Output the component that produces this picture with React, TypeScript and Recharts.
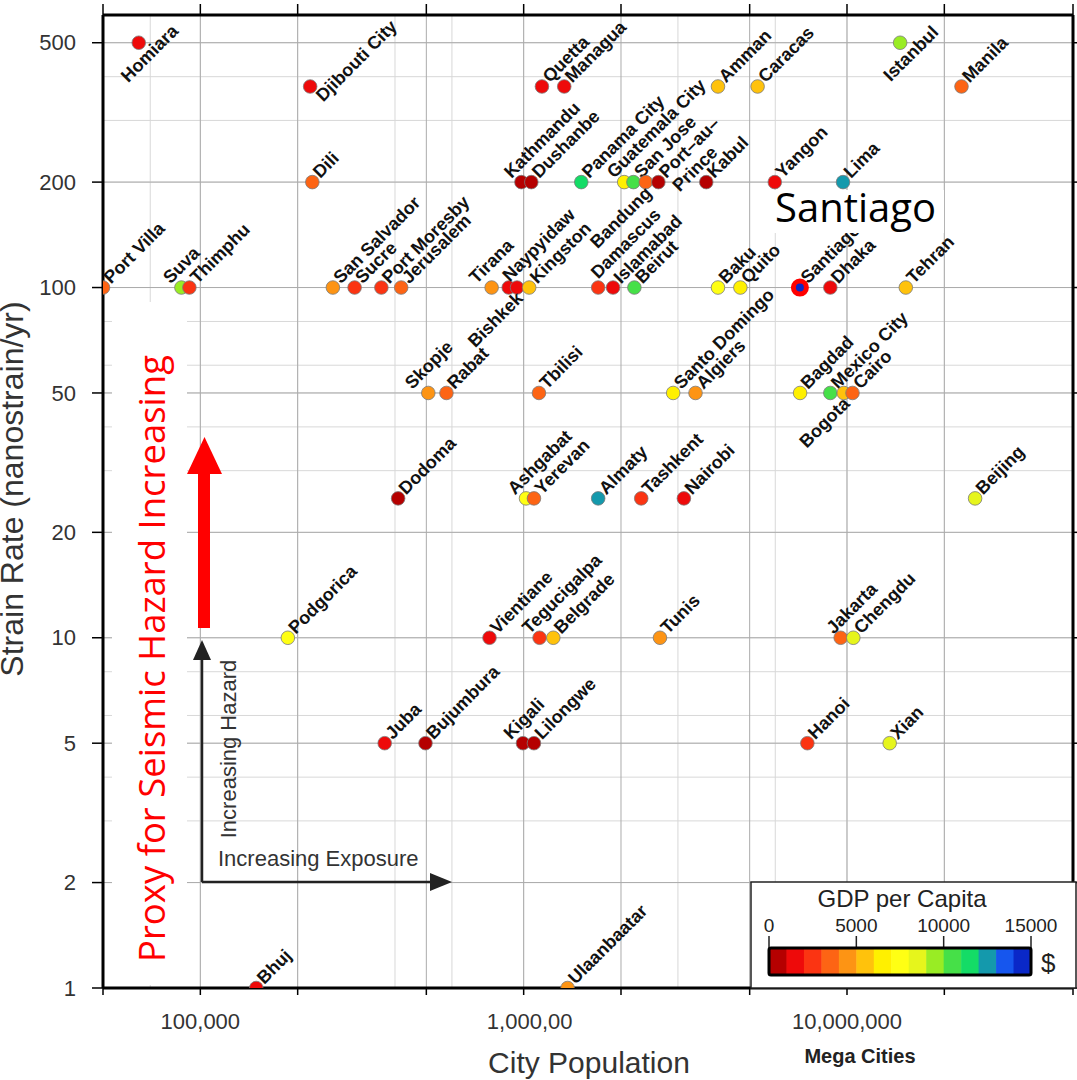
import React from "react";
import {
  CartesianGrid,
  Scatter,
  ScatterChart,
  XAxis,
  YAxis,
} from "recharts";

// city, population, strain rate (nanostrain/yr), GDP per capita ($)
const CITIES = [
  "Homiara", "Djibouti City", "Dili", "Port Villa", "Suva", "Thimphu",
  "San Salvador", "Sucre", "Port Moresby", "Jerusalem", "Tirana", "Naypyidaw",
  "Bishkek", "Kingston", "Kathmandu", "Dushanbe", "Quetta", "Managua",
  "Panama City", "Guatemala City", "San Jose", "Bandung", "Port-au-Prince", "Kabul",
  "Yangon", "Lima", "Amman", "Caracas", "Istanbul", "Manila",
  "Damascus", "Islamabad", "Beirut", "Baku", "Quito", "Santiago",
  "Dhaka", "Tehran", "Skopje", "Rabat", "Tbilisi", "Santo Domingo",
  "Algiers", "Bagdad", "Mexico City", "Bogota", "Cairo", "Dodoma",
  "Ashgabat", "Yerevan", "Almaty", "Tashkent", "Nairobi", "Beijing",
  "Podgorica", "Vientiane", "Tegucigalpa", "Belgrade", "Tunis", "Jakarta",
  "Chengdu", "Juba", "Bujumbura", "Kigali", "Lilongwe", "Hanoi",
  "Xian", "Bhuj", "Ulaanbaatar",
];

const POPULATION = [
  64500, 218600, 222000, 50000, 87400, 92500,
  257000, 300000, 363000, 418000, 796000, 899000,
  954000, 1040000, 984000, 1056000, 1139000, 1335000,
  1507000, 2046000, 2185000, 2385000, 2610000, 3670000,
  5980000, 9720000, 3990000, 5290000, 14600000, 22600000,
  1700000, 1890000, 2200000, 3990000, 4680000, 7150000,
  8880000, 15200000, 507000, 577000, 1115000, 2900000,
  3400000, 7160000, 8880000, 9770000, 10400000, 409000,
  1017000, 1076000, 1700000, 2310000, 3130000, 24900000,
  186500, 784000, 1120000, 1235000, 2640000, 9560000,
  10460000, 371700, 497000, 995000, 1076000, 7540000,
  13550000, 148900, 1367000,
];

const STRAIN = [
  500, 375, 200, 100, 100, 100,
  100, 100, 100, 100, 100, 100,
  100, 100, 200, 200, 375, 375,
  200, 200, 200, 200, 200, 200,
  200, 200, 375, 375, 500, 375,
  100, 100, 100, 100, 100, 100,
  100, 100, 50, 50, 50, 50,
  50, 50, 50, 50, 50, 25,
  25, 25, 25, 25, 25, 25,
  10, 10, 10, 10, 10, 10,
  10, 5, 5, 5, 5, 5,
  5, 1, 1,
];

const GDP = [
  1500, 1500, 3500, 3500, 9500, 2500,
  4500, 2500, 2500, 3500, 4500, 1500,
  1500, 5500, 500, 500, 1500, 1500,
  11500, 6500, 10500, 3500, 500, 500,
  1500, 12500, 5500, 5500, 9500, 3500,
  2500, 1500, 10500, 7500, 6500, 14500,
  1500, 5500, 4500, 3500, 3500, 6500,
  4500, 6500, 10500, 5500, 3500, 500,
  7500, 3500, 12500, 2500, 1500, 8500,
  7500, 1500, 2500, 5500, 4500, 3500,
  8500, 1500, 500, 500, 500, 2500,
  8500, 1500, 4500,
];

const HIGHLIGHT = "Santiago";

// axis ticks and grid
const X_TICKS = [5e4, 1e5, 2e5, 5e5, 1e6, 2e6, 5e6, 1e7, 2e7, 5e7];
const X_LABELS: Record<number, string> = { 100000: "100,000", 1000000: "1,000,00", 10000000: "10,000,000" };
const Y_TICKS = [1, 2, 5, 10, 20, 50, 100, 200, 500];
const X_GRID = [
  5e4, 6e4, 7e4, 8e4, 9e4,
  1e5, 2e5, 3e5, 4e5, 5e5, 6e5, 7e5, 8e5, 9e5,
  1e6, 2e6, 3e6, 4e6, 5e6, 6e6, 7e6, 8e6, 9e6,
  1e7, 2e7, 3e7, 4e7, 5e7,
];
const Y_GRID = [
  1, 2, 3, 4, 5, 6, 7, 8, 9,
  10, 20, 30, 40, 50, 60, 70, 80, 90,
  100, 200, 300, 400, 500, 600,
];

// colour bar, one step per $1000
const GDP_COLORS = [
  "#b50000", "#ee0a0a", "#fb3412", "#fd6414", "#fd9414",
  "#ffc20c", "#fff000", "#ffff14", "#e6f51c", "#99ec24",
  "#46e048", "#14dc66", "#1499ac", "#1656ee", "#0a28c8",
];
const GDP_TICKS = [0, 5000, 10000, 15000];
const GDP_MAX = 15000;

// label placement tweaks
const LABEL_SIDE: Record<string, "sw" | "s"> = {
  Homiara: "s",
  Istanbul: "s",
  Bishkek: "sw",
  Bandung: "sw",
  Bogota: "sw",
};
const LABEL_NUDGE: Record<string, [number, number]> = {
  "Djibouti City": [5, 19],
  Suva: [-19, 0],
  Kathmandu: [-18, 0],
  "Guatemala City": [-18, 0],
  Tirana: [-23, 0],
  Naypyidaw: [-7, -2],
  Damascus: [-8, -5],
  Skopje: [-24, 0],
  Ashgabat: [-19, 0],
  Tegucigalpa: [-18, 0],
  Jakarta: [-15, 0],
  Kigali: [-20, 0],
};
const LABEL_LINES: Record<string, string[]> = {
  "Port-au-Prince": ["Port\u2013au\u2013", "Prince"],
};

const SANS = "'Liberation Sans', Arial, sans-serif";
const HUMANIST = "'Open Sans', 'Noto Sans', sans-serif";

const points = CITIES.map((name, i) => ({
  name,
  pop: POPULATION[i],
  strain: STRAIN[i],
  gdp: GDP[i],
}));

function gdpColor(gdp: number) {
  return GDP_COLORS[Math.min(GDP_COLORS.length - 1, Math.floor(gdp / 1000))];
}

function CityMark(props: any) {
  const { cx, cy, payload } = props;
  if (cx == null || cy == null) return null;
  const name: string = payload.name;
  const side = LABEL_SIDE[name] ?? "ne";
  const [nx, ny] = LABEL_NUDGE[name] ?? [0, 0];
  let tx = cx + 8 + nx;
  let ty = cy - 3 + ny;
  let anchor: "start" | "end" | "middle" = "start";
  if (side === "sw") {
    tx = cx + 7;
    ty = cy + 12;
    anchor = "end";
  } else if (side === "s") {
    tx = cx + 15;
    ty = cy + 15;
    anchor = "middle";
  }
  const lines = LABEL_LINES[name] ?? [name];
  const fill = gdpColor(payload.gdp);
  return (
    <g>
      {name === HIGHLIGHT ? (
        <circle cx={cx} cy={cy} r={6.5} fill={fill} stroke="#ff0000" strokeWidth={5} />
      ) : (
        <circle cx={cx} cy={cy} r={6.8} fill={fill} stroke="#7a7a7a" strokeWidth={0.8} />
      )}
      <text
        x={tx}
        y={ty}
        transform={`rotate(-45 ${tx} ${ty})`}
        textAnchor={anchor}
        fontFamily={SANS}
        fontWeight="bold"
        fontSize={18}
        fill="#111"
      >
        {lines.map((ln, k) => (
          <tspan key={k} x={tx} dy={k === 0 ? 0 : "1.05em"}>
            {ln}
          </tspan>
        ))}
      </text>
    </g>
  );
}

function XTick(props: any) {
  const { x, y, payload } = props;
  const label = X_LABELS[payload.value];
  if (!label) return null;
  return (
    <text x={x} y={y} dx={label === "1,000,00" ? 6 : 0} dy="0.71em" textAnchor="middle" fontFamily={SANS} fontSize={22} fill="#333">
      {label}
    </text>
  );
}

function YTick(props: any) {
  const { x, y, payload } = props;
  return (
    <text x={x} y={y} dy="0.35em" textAnchor="end" fontFamily={SANS} fontSize={22} fill="#333">
      {payload.value}
    </text>
  );
}

const noTick = () => <g />;

function Overlay() {
  const barX = 769;
  const barW = 262;
  const step = barW / GDP_COLORS.length;
  return (
    <svg
      width={1077}
      height={1080}
      style={{ position: "absolute", left: 0, top: 0, pointerEvents: "none" }}
    >
      {/* axis titles */}
      <text
        transform="rotate(-90)"
        x={-489}
        y={23}
        textAnchor="middle"
        fontFamily={SANS}
        fontSize={32}
        fill="#333"
      >
        Strain Rate (nanostrain/yr)
      </text>
      <text x={589} y={1073} textAnchor="middle" fontFamily={SANS} fontSize={30} fill="#333">
        City Population
      </text>
      <text x={860} y={1063} textAnchor="middle" fontFamily={SANS} fontWeight="bold" fontSize={20} fill="#222">
        Mega Cities
      </text>

      {/* seismic hazard callout */}
      <rect x={112} y={302} width={75} height={683} fill="#fff" />
      <text
        transform="rotate(-90)"
        x={-962}
        y={165}
        textAnchor="start"
        fontFamily={HUMANIST}
        fontSize={37}
        fill="#ff0000"
        textLength={607}
        lengthAdjust="spacingAndGlyphs"
      >
        Proxy for Seismic Hazard Increasing
      </text>
      <rect x={198} y={471} width={12} height={157} fill="#ff0000" />
      <polygon points="187,474 222,474 204.5,437" fill="#ff0000" />

      {/* hazard / exposure arrows */}
      <line x1={202} y1={882} x2={202} y2={656} stroke="#222" strokeWidth={2.5} />
      <polygon points="193,660 211,660 202,640" fill="#222" />
      <line x1={202} y1={882} x2={434} y2={882} stroke="#222" strokeWidth={2.5} />
      <polygon points="430,873 430,891 452,882" fill="#222" />
      <text transform="rotate(-90)" x={-749} y={236} textAnchor="middle" fontFamily={SANS} fontSize={22} fill="#333">
        Increasing Hazard
      </text>
      <text x={218} y={866} fontFamily={SANS} fontSize={22} fill="#333">
        Increasing Exposure
      </text>

      {/* highlighted city caption */}
      <rect x={771} y={190} width={173} height={43} fill="#fff" />
      <text x={775} y={222} fontFamily={HUMANIST} fontSize={40} fill="#000">
        Santiago
      </text>

      {/* GDP colour bar */}
      <rect x={751} y={882} width={325} height={106} fill="#fff" stroke="#222" strokeWidth={1.5} />
      <text x={902} y={907} textAnchor="middle" fontFamily={SANS} fontSize={24} fill="#222">
        GDP per Capita
      </text>
      {GDP_TICKS.map((t) => {
        const tx = barX + (t / GDP_MAX) * barW;
        return (
          <g key={t}>
            <line x1={tx} y1={936} x2={tx} y2={948} stroke="#222" strokeWidth={1.5} />
            <text x={tx} y={932} textAnchor="middle" fontFamily={SANS} fontSize={19} fill="#222">
              {t}
            </text>
          </g>
        );
      })}
      {GDP_COLORS.map((c, i) => (
        <rect key={c} x={barX + i * step} y={948} width={step + 0.5} height={27} fill={c} />
      ))}
      <rect x={barX} y={948} width={barW} height={27} rx={2} fill="none" stroke="#000" strokeWidth={3} />
      <text x={1041} y={972} fontFamily={SANS} fontSize={26} fill="#222">
        $
      </text>
    </svg>
  );
}

export default function App() {
  return (
    <div style={{ position: "absolute", left: 0, top: 0, width: 1077, height: 1080, background: "#fff" }}>
      <ScatterChart width={1077} height={1080} margin={{ top: 14, right: 3, bottom: 0, left: 0 }}>
        <CartesianGrid stroke="#d8d8d8" strokeWidth={1} horizontalValues={Y_GRID} verticalValues={X_GRID} />
        <CartesianGrid stroke="#ababab" strokeWidth={1} horizontalValues={Y_TICKS} verticalValues={X_TICKS} />
        <XAxis
          xAxisId={0}
          dataKey="pop"
          type="number"
          scale="log"
          domain={[5e4, 5e7]}
          allowDataOverflow
          ticks={X_TICKS}
          height={92}
          tickSize={7}
          tickMargin={18}
          tick={<XTick />}
          axisLine={{ stroke: "#000", strokeWidth: 3 }}
          tickLine={{ stroke: "#000", strokeWidth: 1.5 }}
        />
        <XAxis
          xAxisId="top"
          orientation="top"
          dataKey="pop"
          type="number"
          scale="log"
          domain={[5e4, 5e7]}
          allowDataOverflow
          ticks={X_TICKS}
          height={1}
          tickSize={11}
          tick={noTick}
          axisLine={{ stroke: "#000", strokeWidth: 3 }}
          tickLine={{ stroke: "#000", strokeWidth: 1.5 }}
        />
        <YAxis
          yAxisId={0}
          dataKey="strain"
          type="number"
          scale="log"
          domain={[1, 600]}
          allowDataOverflow
          ticks={Y_TICKS}
          width={103}
          tickSize={11}
          tickMargin={16}
          tick={<YTick />}
          axisLine={{ stroke: "#000", strokeWidth: 3 }}
          tickLine={{ stroke: "#000", strokeWidth: 1.5 }}
        />
        <YAxis
          yAxisId="right"
          orientation="right"
          dataKey="strain"
          type="number"
          scale="log"
          domain={[1, 600]}
          allowDataOverflow
          ticks={Y_TICKS}
          width={1}
          tickSize={6}
          tick={noTick}
          axisLine={{ stroke: "#000", strokeWidth: 3 }}
          tickLine={{ stroke: "#000", strokeWidth: 1.5 }}
        />
        {/* invisible twin series so the top and right frame axes get drawn */}
        <Scatter
          data={points}
          xAxisId="top"
          yAxisId="right"
          shape={() => <g />}
          isAnimationActive={false}
        />
        <Scatter
          data={points}
          xAxisId={0}
          yAxisId={0}
          shape={(p: any) => <CityMark {...p} />}
          isAnimationActive={false}
        />
      </ScatterChart>
      <Overlay />
    </div>
  );
}
